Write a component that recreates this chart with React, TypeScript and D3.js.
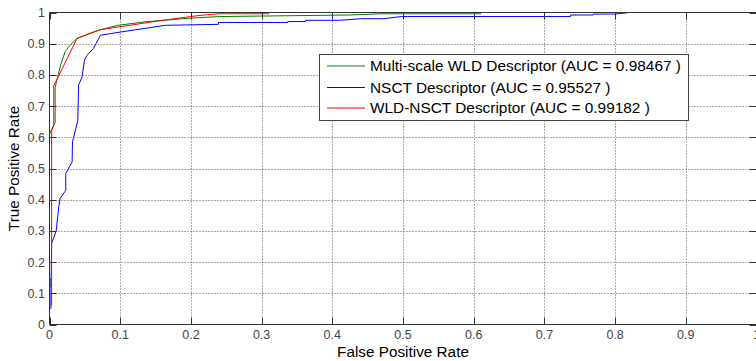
import React, { useEffect, useRef } from 'react';
import * as d3 from 'd3';

// ROC points: [false positive rate, true positive rate]
const wldPoints: [number, number][] = [
  [0.002, 0.12], [0.002, 0.14], [0, 0.15], [0, 0.61], [0.008, 0.648], [0.008, 0.76],
  [0.015, 0.826], [0.022, 0.874], [0.029, 0.895], [0.039, 0.917], [0.053, 0.93],
  [0.069, 0.943], [0.097, 0.959], [0.135, 0.97], [0.199, 0.982], [0.241, 0.987],
  [0.425, 0.992], [0.47, 0.996], [0.61, 0.996], [0.61, 1], [1, 1],
];

const nsctPoints: [number, number][] = [
  [0.002, 0.05], [0.002, 0.09], [0.003, 0.26], [0.0095, 0.3], [0.0127, 0.37],
  [0.015, 0.404], [0.023, 0.43], [0.023, 0.484], [0.032, 0.521], [0.0325, 0.585],
  [0.04, 0.654], [0.041, 0.751], [0.041, 0.767], [0.046, 0.793], [0.0495, 0.847],
  [0.053, 0.863], [0.062, 0.884], [0.072, 0.927], [0.102, 0.938], [0.135, 0.949],
  [0.164, 0.959], [0.239, 0.962], [0.239, 0.968], [0.337, 0.968], [0.337, 0.971],
  [0.362, 0.971], [0.362, 0.975], [0.41, 0.975], [0.44, 0.98], [0.472, 0.98],
  [0.498, 0.987], [0.737, 0.987], [0.737, 0.992], [0.769, 0.992], [0.769, 0.995],
  [0.8, 0.995], [0.82, 1], [1, 1],
];

const wldNsctPoints: [number, number][] = [
  [0.003, 0.06], [0.003, 0.62], [0.006, 0.64], [0.006, 0.765], [0.039, 0.917],
  [0.072, 0.945], [0.16, 0.975], [0.21, 0.99], [0.24, 0.996], [0.31, 0.996],
  [0.31, 1], [1, 1],
];

const seriesNames = [
  'Multi-scale WLD Descriptor (AUC = 0.98467 )',
  'NSCT Descriptor (AUC = 0.95527 )',
  'WLD-NSCT Descriptor (AUC = 0.99182 )',
];
const seriesColors = ['#008000', '#0000ff', '#ff0000'];
const xTicks = [0, 0.1, 0.2, 0.3, 0.4, 0.5, 0.6, 0.7, 0.8, 0.9, 1];
const yTicks = [0, 0.1, 0.2, 0.3, 0.4, 0.5, 0.6, 0.7, 0.8, 0.9, 1];

const W = 756;
const H = 361;
const FONT = '"Liberation Sans", Arial, Helvetica, sans-serif';

export default function App() {
  const svgRef = useRef<SVGSVGElement | null>(null);

  useEffect(() => {
    if (!svgRef.current) return;
    const svg = d3.select(svgRef.current);
    svg.selectAll('*').remove();

    const x = d3.scaleLinear().domain([0, 1]).range([49.5, 756.5]);
    const y = d3.scaleLinear().domain([0, 1]).range([324.5, 12.5]);

    svg.append('rect').attr('width', W).attr('height', H).attr('fill', '#fff');

    // grid
    const grid = svg.append('g').attr('stroke', '#555').attr('stroke-width', 1)
      .attr('stroke-dasharray', '1,2');
    grid.selectAll('line.v').data(xTicks.slice(1, -1)).join('line')
      .attr('class', 'v')
      .attr('x1', d => Math.round(x(d)) + 0.5).attr('x2', d => Math.round(x(d)) + 0.5)
      .attr('y1', y(1)).attr('y2', y(0));
    grid.selectAll('line.h').data(yTicks.slice(1, -1)).join('line')
      .attr('class', 'h')
      .attr('y1', d => Math.round(y(d)) + 0.5).attr('y2', d => Math.round(y(d)) + 0.5)
      .attr('x1', x(0)).attr('x2', x(1));

    // curves
    const line = d3.line<[number, number]>().x(d => x(d[0])).y(d => y(d[1]));
    [wldPoints, nsctPoints, wldNsctPoints].forEach((pts, i) => {
      svg.append('path').attr('d', line(pts)).attr('fill', 'none')
        .attr('stroke', seriesColors[i]).attr('stroke-width', 1);
    });

    // axes box and ticks
    const ax = svg.append('g').attr('stroke', '#333').attr('stroke-width', 1);
    ax.append('line').attr('x1', x(0)).attr('x2', x(1)).attr('y1', y(0)).attr('y2', y(0));
    ax.append('line').attr('x1', x(0)).attr('x2', x(1)).attr('y1', y(1)).attr('y2', y(1));
    ax.append('line').attr('x1', x(0)).attr('x2', x(0)).attr('y1', y(0)).attr('y2', y(1));
    ax.append('line').attr('x1', x(1)).attr('x2', x(1)).attr('y1', y(0)).attr('y2', y(1));
    xTicks.forEach(t => {
      const px = Math.round(x(t)) + 0.5;
      ax.append('line').attr('x1', px).attr('x2', px).attr('y1', y(0)).attr('y2', y(0) - 7);
      ax.append('line').attr('x1', px).attr('x2', px).attr('y1', y(1)).attr('y2', y(1) + 7);
    });
    yTicks.forEach(t => {
      const py = Math.round(y(t)) + 0.5;
      ax.append('line').attr('y1', py).attr('y2', py).attr('x1', x(0)).attr('x2', x(0) + 7);
      ax.append('line').attr('y1', py).attr('y2', py).attr('x1', x(1)).attr('x2', x(1) - 7);
    });

    const fmt = (d: number) => (d === 0 || d === 1 ? String(d) : d.toFixed(1));
    svg.append('g').selectAll('text').data(xTicks).join('text')
      .attr('x', d => x(d)).attr('y', 339)
      .attr('text-anchor', 'middle').attr('font-size', 12.5).attr('fill', '#444')
      .style('font-family', FONT).text(fmt);
    svg.append('g').selectAll('text').data(yTicks).join('text')
      .attr('x', 45).attr('y', d => y(d) + 4.5)
      .attr('text-anchor', 'end').attr('font-size', 12.5).attr('fill', '#444')
      .style('font-family', FONT).text(fmt);

    svg.append('text').attr('x', (x(0) + x(1)) / 2).attr('y', 357)
      .attr('text-anchor', 'middle').attr('font-size', 15.3).attr('fill', '#000')
      .style('font-family', FONT).text('False Positive Rate');
    svg.append('text').attr('transform', `translate(18.5,${(y(0) + y(1)) / 2}) rotate(-90)`)
      .attr('text-anchor', 'middle').attr('font-size', 15.3).attr('fill', '#000')
      .style('font-family', FONT).text('True Positive Rate');

    // legend
    const lg = svg.append('g');
    lg.append('rect').attr('x', 319.5).attr('y', 54.5).attr('width', 369).attr('height', 66)
      .attr('fill', '#fff').attr('stroke', '#444');
    const rows = [66, 87.5, 108];
    seriesNames.forEach((name, i) => {
      lg.append('line').attr('x1', 327).attr('x2', 365).attr('y1', rows[i]).attr('y2', rows[i])
        .attr('stroke', seriesColors[i]).attr('stroke-width', 1);
      lg.append('text').attr('x', 370).attr('y', Math.round(rows[i]) + 5)
        .attr('font-size', 15.4).attr('fill', '#000').style('font-family', FONT).text(name);
    });
  }, []);

  return (
    <svg ref={svgRef} width={W} height={H}
      style={{ position: 'absolute', left: 0, top: 0, display: 'block' }} />
  );
}
